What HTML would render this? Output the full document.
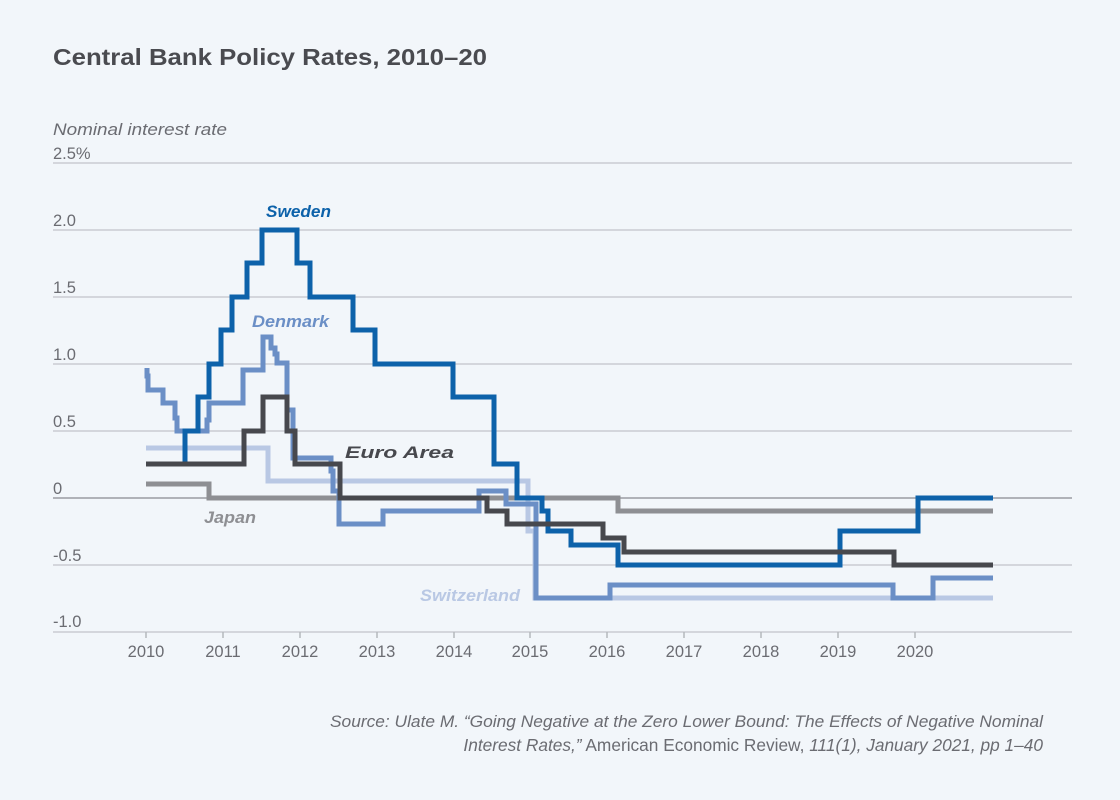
<!DOCTYPE html>
<html>
<head>
<meta charset="utf-8">
<style>
  html, body { margin:0; padding:0; background:#f2f6fa; }
  svg { display:block; }
  text { font-family: "Liberation Sans", "DejaVu Sans", sans-serif; }
</style>
</head>
<body>
<svg width="1120" height="800" viewBox="0 0 1120 800" xmlns="http://www.w3.org/2000/svg">
  <rect width="1120" height="800" fill="#f2f6fa"/>

  <!-- Title -->
  <text x="53" y="65" font-size="23" font-weight="bold" fill="#4a4b50" textLength="434" lengthAdjust="spacingAndGlyphs">Central Bank Policy Rates, 2010–20</text>

  <!-- Axis title -->
  <text x="53" y="135" font-size="17" font-style="italic" fill="#6b6c72" textLength="174" lengthAdjust="spacingAndGlyphs">Nominal interest rate</text>

  <!-- Gridlines -->
  <g stroke="#c9ccd1" stroke-width="1.5">
    <line x1="53" y1="163" x2="1072" y2="163"/>
    <line x1="53" y1="230" x2="1072" y2="230"/>
    <line x1="53" y1="297" x2="1072" y2="297"/>
    <line x1="53" y1="364" x2="1072" y2="364"/>
    <line x1="53" y1="431" x2="1072" y2="431"/>
    <line x1="53" y1="565" x2="1072" y2="565"/>
    <line x1="53" y1="632" x2="1072" y2="632"/>
  </g>
  <line x1="53" y1="498" x2="1072" y2="498" stroke="#9a9ca1" stroke-width="1.5"/>

  <!-- X ticks -->
  <g stroke="#b5b8bd" stroke-width="1.5">
    <line x1="146" y1="632" x2="146" y2="638"/>
    <line x1="223" y1="632" x2="223" y2="638"/>
    <line x1="300" y1="632" x2="300" y2="638"/>
    <line x1="377" y1="632" x2="377" y2="638"/>
    <line x1="454" y1="632" x2="454" y2="638"/>
    <line x1="530" y1="632" x2="530" y2="638"/>
    <line x1="607" y1="632" x2="607" y2="638"/>
    <line x1="684" y1="632" x2="684" y2="638"/>
    <line x1="761" y1="632" x2="761" y2="638"/>
    <line x1="838" y1="632" x2="838" y2="638"/>
    <line x1="915" y1="632" x2="915" y2="638"/>
  </g>

  <!-- Y labels -->
  <g font-size="16.5" fill="#6b6c72">
    <text x="53" y="159">2.5%</text>
    <text x="53" y="226">2.0</text>
    <text x="53" y="293">1.5</text>
    <text x="53" y="360">1.0</text>
    <text x="53" y="427">0.5</text>
    <text x="53" y="494">0</text>
    <text x="53" y="561">-0.5</text>
    <text x="53" y="627">-1.0</text>
  </g>

  <!-- X labels -->
  <g font-size="16.5" fill="#6b6c72" text-anchor="middle">
    <text x="146" y="657">2010</text>
    <text x="223" y="657">2011</text>
    <text x="300" y="657">2012</text>
    <text x="377" y="657">2013</text>
    <text x="454" y="657">2014</text>
    <text x="530" y="657">2015</text>
    <text x="607" y="657">2016</text>
    <text x="684" y="657">2017</text>
    <text x="761" y="657">2018</text>
    <text x="838" y="657">2019</text>
    <text x="915" y="657">2020</text>
  </g>

  <!-- Series -->
  <g fill="none" stroke-width="5" stroke-linejoin="miter" stroke-linecap="butt">
    <!-- Switzerland -->
    <path stroke="#b9c8e4" d="M146,448 H268 V481 H528 V531 H535 V598 H993"/>
    <!-- Japan -->
    <path stroke="#8e8f93" d="M146,484 H209 V498 H618 V511 H993"/>
    <!-- Denmark -->
    <path stroke="#6b8fc6" d="M147,368 V376 H148 V390 H163 V403 H175 V418 H177 V431 H207 V420 H209 V403 H243 V370 H263 V337 H271 V348 H275 V354 H277 V363 H287 V410 H293 V458 H331 V471 H333 V491 H339 V524 H383 V511 H479 V491 H506 V504 H536 V598 H610 V585 H893 V598 H933 V578 H993"/>
    <!-- Sweden -->
    <path stroke="#0d62aa" d="M146,464 H185 V431 H198 V397 H209 V364 H221 V330 H232 V297 H247 V263 H262 V230 H297 V263 H310 V297 H353 V330 H375 V364 H453 V397 H494 V464 H517 V498 H542 V511 H548 V531 H571 V545 H618 V565 H840 V531 H918 V498 H993"/>
    <!-- Euro Area -->
    <path stroke="#47484d" d="M146,464 H244 V431 H263 V397 H287 V431 H295 V464 H340 V498 H487 V511 H507 V524 H603 V538 H624 V552 H894 V565 H993"/>
  </g>

  <!-- Series labels -->
  <g font-size="17" font-weight="bold" font-style="italic">
    <text x="266" y="217" fill="#0d62aa" textLength="65" lengthAdjust="spacingAndGlyphs">Sweden</text>
    <text x="252" y="327" fill="#6b8fc6" textLength="77" lengthAdjust="spacingAndGlyphs">Denmark</text>
    <text x="345" y="458" fill="#47484d" textLength="109" lengthAdjust="spacingAndGlyphs">Euro Area</text>
    <text x="204" y="523" fill="#8e8f93" textLength="52" lengthAdjust="spacingAndGlyphs">Japan</text>
    <text x="420" y="601" fill="#b9c8e4" textLength="100" lengthAdjust="spacingAndGlyphs">Switzerland</text>
  </g>

  <!-- Source -->
  <g font-size="17" fill="#6b6c72">
    <text x="330" y="727" font-style="italic" textLength="713" lengthAdjust="spacingAndGlyphs">Source: Ulate M. “Going Negative at the Zero Lower Bound: The Effects of Negative Nominal</text>
    <text x="1043" y="751" text-anchor="end" font-size="17.3"><tspan font-style="italic">Interest Rates,”</tspan> American Economic Review, <tspan font-style="italic">111(1), January 2021, pp 1–40</tspan></text>
  </g>
</svg>
</body>
</html>
